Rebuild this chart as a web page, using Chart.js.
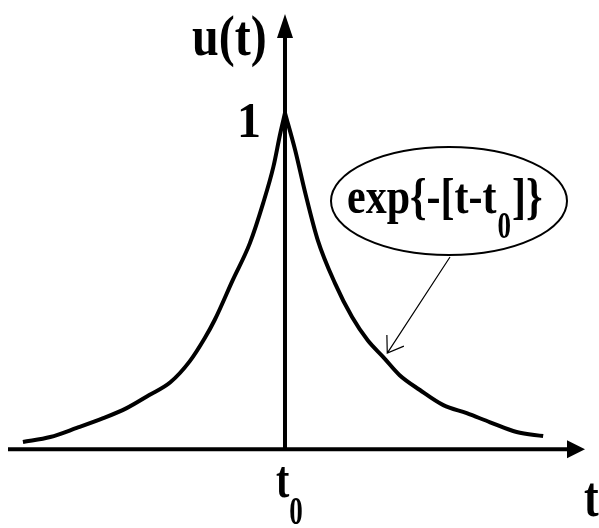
<!DOCTYPE html>
<html>
<head>
<meta charset="utf-8">
<script src="https://cdn.jsdelivr.net/npm/chart.js@4"></script>
<style>
  html, body { margin: 0; padding: 0; background: #fff; }
  canvas { display: block; }
</style>
</head>
<body>
<canvas id="myChart" width="599" height="528"></canvas>
<script>
// left branch of u(t), t measured from t0
const leftT = [-3.36, -3.01, -2.67, -2.33, -2.03, -1.74, -1.47, -1.22, -1.03, -0.90, -0.67, -0.45, -0.28, -0.15, -0.06, 0];
const leftU = [0.021, 0.036, 0.063, 0.092, 0.122, 0.161, 0.199, 0.262, 0.330, 0.385, 0.503, 0.613, 0.732, 0.839, 0.940, 1];

// right branch, the decaying exp{-[t-t0]}
const rightT = [0, 0.13, 0.26, 0.42, 0.64, 0.86, 1.06, 1.26, 1.47, 1.73, 2.03, 2.33, 2.63, 2.97, 3.31];
const rightU = [1, 0.890, 0.762, 0.622, 0.494, 0.393, 0.324, 0.274, 0.220, 0.176, 0.131, 0.107, 0.080, 0.051, 0.039];

const yTicks = ['1'];
const xTicks = ['t', '0'];

const serif = '"Liberation Serif", "Times New Roman", serif';

// bold serif text, a bit taller than wide
function txt(ctx, s, x, y, size, sy, align) {
  ctx.save();
  ctx.translate(x, y);
  ctx.scale(1, sy);
  ctx.font = 'bold ' + size + 'px ' + serif;
  ctx.textAlign = align || 'left';
  ctx.textBaseline = 'alphabetic';
  ctx.fillStyle = '#000';
  ctx.fillText(s, 0, 0);
  const w = ctx.measureText(s).width;
  ctx.restore();
  return w;
}

function filledHead(ctx, tipX, tipY, dx, dy, len, half) {
  // dx,dy : unit direction of the arrow
  ctx.beginPath();
  ctx.moveTo(tipX, tipY);
  ctx.lineTo(tipX - dx * len - dy * half, tipY - dy * len + dx * half);
  ctx.lineTo(tipX - dx * len + dy * half, tipY - dy * len - dx * half);
  ctx.closePath();
  ctx.fill();
}

const axesPlugin = {
  id: 'axes',
  beforeDatasetsDraw(chart) {
    const ctx = chart.ctx;
    const xs = chart.scales.x, ys = chart.scales.y;
    const x0 = xs.getPixelForValue(0);
    const y0 = ys.getPixelForValue(0);
    ctx.save();
    ctx.strokeStyle = '#000';
    ctx.fillStyle = '#000';
    ctx.lineWidth = 4;
    // t axis
    ctx.beginPath();
    ctx.moveTo(8, y0);
    ctx.lineTo(572, y0);
    ctx.stroke();
    filledHead(ctx, 585, y0, 1, 0, 18, 9);
    // u axis
    ctx.beginPath();
    ctx.moveTo(x0, y0);
    ctx.lineTo(x0, 30);
    ctx.stroke();
    filledHead(ctx, x0, 14, 0, -1, 24, 8);
    ctx.restore();
  },
  afterDraw(chart) {
    const ctx = chart.ctx;
    const xs = chart.scales.x, ys = chart.scales.y;
    const x0 = xs.getPixelForValue(0);
    const y0 = ys.getPixelForValue(0);
    const y1 = ys.getPixelForValue(1);

    // axis labels
    txt(ctx, 'u(t)', 192, 55, 48, 1.2);
    txt(ctx, yTicks[0], 249, y1 + 24, 48, 1.05, 'center');
    let w = txt(ctx, xTicks[0], x0 - 9, y0 + 48, 40, 1.3);
    txt(ctx, xTicks[1], x0 - 9 + w, y0 + 75, 27, 1.45);
    txt(ctx, 't', 584, y0 + 67, 44, 1.3);

    // annotation ellipse
    ctx.save();
    ctx.strokeStyle = '#000';
    ctx.lineWidth = 2;
    ctx.beginPath();
    ctx.ellipse(449, 201, 118, 54, 0, 0, Math.PI * 2);
    ctx.stroke();
    ctx.restore();

    let x = 347;
    x += txt(ctx, 'exp{-[t-t', x, 213, 42, 1.22);
    x += txt(ctx, '0', x + 1, 238, 27, 1.4) + 2;
    txt(ctx, ']}', x, 213, 42, 1.22);

    // pointer from the ellipse to the curve
    const px = xs.getPixelForValue(rightT[7]) + 4;
    const py = ys.getPixelForValue(rightU[7]) - 4;
    const sx = 450, sy = 257;
    const len = Math.hypot(px - sx, py - sy);
    const dx = (px - sx) / len, dy = (py - sy) / len;
    ctx.save();
    ctx.strokeStyle = '#000';
    ctx.lineWidth = 1.2;
    ctx.beginPath();
    ctx.moveTo(sx, sy);
    ctx.lineTo(px, py);
    const a = 0.6, l = 18;
    const c = Math.cos(a), s = Math.sin(a);
    ctx.moveTo(px - l * (dx * c - dy * s), py - l * (dy * c + dx * s));
    ctx.lineTo(px, py);
    ctx.lineTo(px - l * (dx * c + dy * s), py - l * (dy * c - dx * s));
    ctx.stroke();
    ctx.restore();
  }
};

const curveStyle = {
  borderColor: '#000',
  borderWidth: 4,
  pointRadius: 0,
  fill: false,
  cubicInterpolationMode: 'monotone',
  borderJoinStyle: 'miter',
  borderCapStyle: 'butt'
};

new Chart(
  document.getElementById('myChart'),
  {
    type: 'line',
    data: {
      datasets: [
        Object.assign({ label: 'u(t), t < t0', data: leftT.map((t, i) => ({ x: t, y: leftU[i] })) }, curveStyle),
        Object.assign({ label: 'u(t), t > t0', data: rightT.map((t, i) => ({ x: t, y: rightU[i] })) }, curveStyle)
      ]
    },
    options: {
      responsive: false,
      animation: false,
      layout: { padding: 0 },
      scales: {
        x: { type: 'linear', display: false, min: -3.654, max: 4.026 },
        y: { display: false, min: -0.2346, max: 1.3363 }
      },
      plugins: {
        legend: { display: false }, // pas de légende
        tooltip: { enabled: false }
      }
    },
    plugins: [axesPlugin]
  }
);
</script>
</body>
</html>
